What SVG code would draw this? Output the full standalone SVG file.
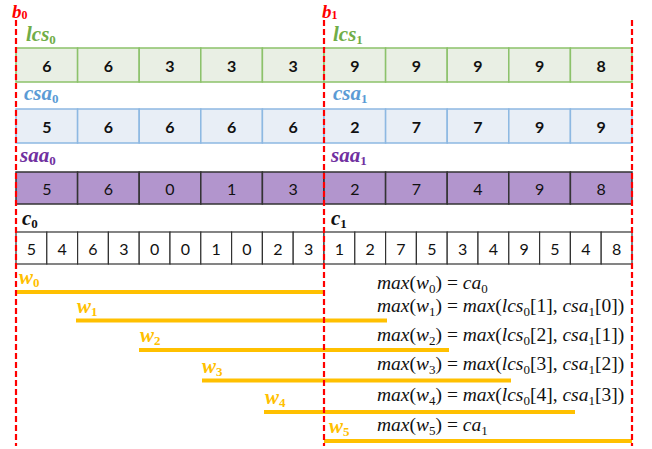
<svg xmlns="http://www.w3.org/2000/svg" width="652" height="449" viewBox="0 0 652 449">
<style>
.lbl{font-family:"Liberation Serif",serif;font-style:italic;font-weight:bold;font-size:21px}
.sub{font-size:13px;font-style:normal}
.bl{font-size:19px}
.bl .sub{font-size:12px}
.num{font-family:Lato,"Liberation Sans",sans-serif;font-size:16px;text-anchor:middle;dominant-baseline:central;fill:#111}
.b{font-weight:bold}
.lcs rect{fill:#E9EFE4;stroke:#8CC26A;stroke-width:1.5}
.csa rect{fill:#E8EEF6;stroke:#8DB8E2;stroke-width:1.5}
.saa rect{fill:#B295CD;stroke:#333;stroke-width:1.5}
.c rect{fill:#fff;stroke:#333;stroke-width:1.2}
.f{font-family:"Liberation Serif",serif;font-size:19.5px;fill:#111}
.f .sub{font-size:13px}
.i{font-style:italic}
.bar{stroke:#FFC000;stroke-width:4}
.red{stroke:#FF0000;stroke-width:2.2;stroke-dasharray:6 3;fill:none}
</style>

<g id="label-b0"><text class="lbl bl" x="12" y="18" fill="#FF0000">b<tspan class="sub" dy="1">0</tspan></text></g>
<g id="label-b1"><text class="lbl bl" x="322" y="18" fill="#FF0000">b<tspan class="sub" dy="1">1</tspan></text></g>

<g id="label-lcs0"><text class="lbl" x="26" y="41" fill="#70AD47">lcs<tspan class="sub" dy="3">0</tspan></text></g>
<g id="label-lcs1"><text class="lbl" x="333" y="41" fill="#70AD47">lcs<tspan class="sub" dy="3">1</tspan></text></g>
<g id="row-lcs" class="lcs">
<rect x="16" y="48" width="61.6" height="34"/><rect x="77.6" y="48" width="61.6" height="34"/><rect x="139.2" y="48" width="61.6" height="34"/><rect x="200.8" y="48" width="61.6" height="34"/><rect x="262.4" y="48" width="61.6" height="34"/>
<rect x="324" y="48" width="61.6" height="34"/><rect x="385.6" y="48" width="61.6" height="34"/><rect x="447.2" y="48" width="61.6" height="34"/><rect x="508.8" y="48" width="61.6" height="34"/><rect x="570.4" y="48" width="61.6" height="34"/>
<g class="num b">
<text x="46.8" y="65">6</text><text x="108.4" y="65">6</text><text x="170" y="65">3</text><text x="231.6" y="65">3</text><text x="293.2" y="65">3</text>
<text x="354.8" y="65">9</text><text x="416.4" y="65">9</text><text x="478" y="65">9</text><text x="539.6" y="65">9</text><text x="601.2" y="65">8</text>
</g>
</g>

<g id="label-csa0"><text class="lbl" x="24" y="100" fill="#5B9BD5">csa<tspan class="sub" dy="3">0</tspan></text></g>
<g id="label-csa1"><text class="lbl" x="333" y="100" fill="#5B9BD5">csa<tspan class="sub" dy="3">1</tspan></text></g>
<g id="row-csa" class="csa">
<rect x="16" y="109" width="61.6" height="34"/><rect x="77.6" y="109" width="61.6" height="34"/><rect x="139.2" y="109" width="61.6" height="34"/><rect x="200.8" y="109" width="61.6" height="34"/><rect x="262.4" y="109" width="61.6" height="34"/>
<rect x="324" y="109" width="61.6" height="34"/><rect x="385.6" y="109" width="61.6" height="34"/><rect x="447.2" y="109" width="61.6" height="34"/><rect x="508.8" y="109" width="61.6" height="34"/><rect x="570.4" y="109" width="61.6" height="34"/>
<g class="num b">
<text x="46.8" y="126">5</text><text x="108.4" y="126">6</text><text x="170" y="126">6</text><text x="231.6" y="126">6</text><text x="293.2" y="126">6</text>
<text x="354.8" y="126">2</text><text x="416.4" y="126">7</text><text x="478" y="126">7</text><text x="539.6" y="126">9</text><text x="601.2" y="126">9</text>
</g>
</g>

<g id="label-saa0"><text class="lbl" x="20" y="162" fill="#7030A0">saa<tspan class="sub" dy="3">0</tspan></text></g>
<g id="label-saa1"><text class="lbl" x="331" y="162" fill="#7030A0">saa<tspan class="sub" dy="3">1</tspan></text></g>
<g id="row-saa" class="saa">
<rect x="16" y="172" width="61.6" height="32"/><rect x="77.6" y="172" width="61.6" height="32"/><rect x="139.2" y="172" width="61.6" height="32"/><rect x="200.8" y="172" width="61.6" height="32"/><rect x="262.4" y="172" width="61.6" height="32"/>
<rect x="324" y="172" width="61.6" height="32"/><rect x="385.6" y="172" width="61.6" height="32"/><rect x="447.2" y="172" width="61.6" height="32"/><rect x="508.8" y="172" width="61.6" height="32"/><rect x="570.4" y="172" width="61.6" height="32"/>
<g class="num">
<text x="46.8" y="188">5</text><text x="108.4" y="188">6</text><text x="170" y="188">0</text><text x="231.6" y="188">1</text><text x="293.2" y="188">3</text>
<text x="354.8" y="188">2</text><text x="416.4" y="188">7</text><text x="478" y="188">4</text><text x="539.6" y="188">9</text><text x="601.2" y="188">8</text>
</g>
</g>

<g id="label-c0"><text class="lbl" x="22" y="225" fill="#111">c<tspan class="sub" dy="3">0</tspan></text></g>
<g id="label-c1"><text class="lbl" x="331" y="225" fill="#111">c<tspan class="sub" dy="3">1</tspan></text></g>
<g id="row-c" class="c">
<rect x="16" y="232" width="30.8" height="32"/><rect x="46.8" y="232" width="30.8" height="32"/><rect x="77.6" y="232" width="30.8" height="32"/><rect x="108.4" y="232" width="30.8" height="32"/><rect x="139.2" y="232" width="30.8" height="32"/><rect x="170" y="232" width="30.8" height="32"/><rect x="200.8" y="232" width="30.8" height="32"/><rect x="231.6" y="232" width="30.8" height="32"/><rect x="262.4" y="232" width="30.8" height="32"/><rect x="293.2" y="232" width="30.8" height="32"/>
<rect x="324" y="232" width="30.8" height="32"/><rect x="354.8" y="232" width="30.8" height="32"/><rect x="385.6" y="232" width="30.8" height="32"/><rect x="416.4" y="232" width="30.8" height="32"/><rect x="447.2" y="232" width="30.8" height="32"/><rect x="478" y="232" width="30.8" height="32"/><rect x="508.8" y="232" width="30.8" height="32"/><rect x="539.6" y="232" width="30.8" height="32"/><rect x="570.4" y="232" width="30.8" height="32"/><rect x="601.2" y="232" width="30.8" height="32"/>
<g class="num">
<text x="31.4" y="248">5</text><text x="62.2" y="248">4</text><text x="93" y="248">6</text><text x="123.8" y="248">3</text><text x="154.6" y="248">0</text><text x="185.4" y="248">0</text><text x="216.2" y="248">1</text><text x="247" y="248">0</text><text x="277.8" y="248">2</text><text x="308.6" y="248">3</text>
<text x="339.4" y="248">1</text><text x="370.2" y="248">2</text><text x="401" y="248">7</text><text x="431.8" y="248">5</text><text x="462.6" y="248">3</text><text x="493.4" y="248">4</text><text x="524.2" y="248">9</text><text x="555" y="248">5</text><text x="585.8" y="248">4</text><text x="616.6" y="248">8</text>
</g>
</g>

<g id="windows">
<line class="bar" x1="16" y1="292" x2="324" y2="292"/>
<line class="bar" x1="76" y1="320.5" x2="387" y2="320.5"/>
<line class="bar" x1="139" y1="350" x2="449" y2="350"/>
<line class="bar" x1="202" y1="380.5" x2="511" y2="380.5"/>
<line class="bar" x1="264" y1="412" x2="575" y2="412"/>
<line class="bar" x1="324" y1="441" x2="632" y2="441"/>
</g>
<g id="label-w0"><text class="lbl" x="19" y="284" fill="#FFC000">w<tspan class="sub" dy="3">0</tspan></text></g>
<g id="label-w1"><text class="lbl" x="77" y="313" fill="#FFC000">w<tspan class="sub" dy="3">1</tspan></text></g>
<g id="label-w2"><text class="lbl" x="140" y="342" fill="#FFC000">w<tspan class="sub" dy="3">2</tspan></text></g>
<g id="label-w3"><text class="lbl" x="202" y="373" fill="#FFC000">w<tspan class="sub" dy="3">3</tspan></text></g>
<g id="label-w4"><text class="lbl" x="265" y="404" fill="#FFC000">w<tspan class="sub" dy="3">4</tspan></text></g>
<g id="label-w5"><text class="lbl" x="329" y="433" fill="#FFC000">w<tspan class="sub" dy="3">5</tspan></text></g>

<g id="formula-0"><text class="f" x="377" y="289"><tspan class="i">max</tspan>(<tspan class="i">w</tspan><tspan class="sub" dy="4">0</tspan><tspan dy="-4">) = </tspan><tspan class="i">ca</tspan><tspan class="sub" dy="4">0</tspan></text></g>
<g id="formula-1"><text class="f" x="377" y="312"><tspan class="i">max</tspan>(<tspan class="i">w</tspan><tspan class="sub" dy="4">1</tspan><tspan dy="-4">) = </tspan><tspan class="i">max</tspan>(<tspan class="i">lcs</tspan><tspan class="sub" dy="4">0</tspan><tspan dy="-4">[1], </tspan><tspan class="i">csa</tspan><tspan class="sub" dy="4">1</tspan><tspan dy="-4">[0])</tspan></text></g>
<g id="formula-2"><text class="f" x="377" y="341"><tspan class="i">max</tspan>(<tspan class="i">w</tspan><tspan class="sub" dy="4">2</tspan><tspan dy="-4">) = </tspan><tspan class="i">max</tspan>(<tspan class="i">lcs</tspan><tspan class="sub" dy="4">0</tspan><tspan dy="-4">[2], </tspan><tspan class="i">csa</tspan><tspan class="sub" dy="4">1</tspan><tspan dy="-4">[1])</tspan></text></g>
<g id="formula-3"><text class="f" x="377" y="370"><tspan class="i">max</tspan>(<tspan class="i">w</tspan><tspan class="sub" dy="4">3</tspan><tspan dy="-4">) = </tspan><tspan class="i">max</tspan>(<tspan class="i">lcs</tspan><tspan class="sub" dy="4">0</tspan><tspan dy="-4">[3], </tspan><tspan class="i">csa</tspan><tspan class="sub" dy="4">1</tspan><tspan dy="-4">[2])</tspan></text></g>
<g id="formula-4"><text class="f" x="377" y="401"><tspan class="i">max</tspan>(<tspan class="i">w</tspan><tspan class="sub" dy="4">4</tspan><tspan dy="-4">) = </tspan><tspan class="i">max</tspan>(<tspan class="i">lcs</tspan><tspan class="sub" dy="4">0</tspan><tspan dy="-4">[4], </tspan><tspan class="i">csa</tspan><tspan class="sub" dy="4">1</tspan><tspan dy="-4">[3])</tspan></text></g>
<g id="formula-5"><text class="f" x="377" y="431"><tspan class="i">max</tspan>(<tspan class="i">w</tspan><tspan class="sub" dy="4">5</tspan><tspan dy="-4">) = </tspan><tspan class="i">ca</tspan><tspan class="sub" dy="4">1</tspan></text></g>

<g id="boundaries">
<line class="red" x1="16" y1="20" x2="16" y2="446"/>
<line class="red" x1="324" y1="20" x2="324" y2="446"/>
<line class="red" x1="632" y1="20" x2="632" y2="446"/>
</g>
</svg>
